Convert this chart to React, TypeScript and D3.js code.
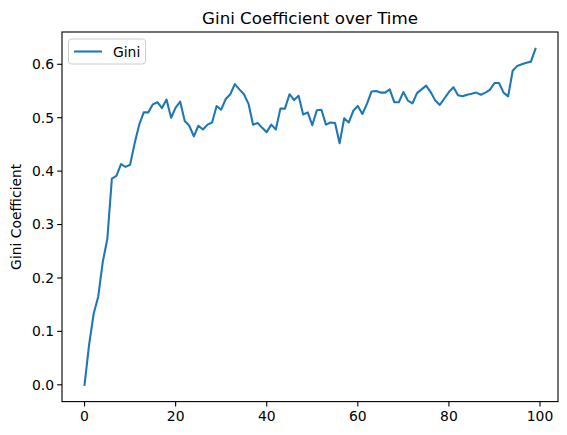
import React from "react";
import * as d3 from "d3";

const giniValues: number[] = [
  0.0, 0.075, 0.133, 0.165, 0.23, 0.273, 0.386, 0.391, 0.413, 0.408,
  0.412, 0.452, 0.487, 0.51, 0.51, 0.525, 0.529, 0.518, 0.534, 0.5,
  0.519, 0.53, 0.494, 0.485, 0.465, 0.485, 0.478, 0.487, 0.491, 0.522,
  0.515, 0.535, 0.544, 0.563, 0.553, 0.544, 0.526, 0.487, 0.49, 0.481,
  0.473, 0.487, 0.478, 0.517, 0.517, 0.544, 0.533, 0.541, 0.506, 0.51,
  0.486, 0.514, 0.515, 0.487, 0.491, 0.49, 0.452, 0.499, 0.491, 0.513,
  0.522, 0.507, 0.526, 0.549, 0.55, 0.547, 0.547, 0.553, 0.529, 0.529,
  0.548, 0.532, 0.527, 0.546, 0.553, 0.56, 0.548, 0.532, 0.524, 0.536,
  0.548, 0.557, 0.542, 0.54, 0.543, 0.545, 0.547, 0.543, 0.547, 0.552,
  0.565, 0.565, 0.547, 0.54, 0.588, 0.597, 0.6, 0.603, 0.605, 0.629,
];
const xTicks: number[] = [0, 20, 40, 60, 80, 100];
const yTicks: number[] = [0.0, 0.1, 0.2, 0.3, 0.4, 0.5, 0.6];
const title = "Gini Coefficient over Time";
const yLabel = "Gini Coefficient";
const seriesName = "Gini";

const W = 567, H = 435;
const L = 62, R = 558, T = 32, B = 401.6;
const FONT = "DejaVu Sans, sans-serif";

export default function App() {
  const n = giniValues.length;
  const xPad = (n - 1) * 0.05;
  const x = d3.scaleLinear().domain([-xPad, n - 1 + xPad]).range([L, R]);
  const yMin = d3.min(giniValues)!, yMax = d3.max(giniValues)!;
  const yPad = (yMax - yMin) * 0.05;
  const y = d3.scaleLinear().domain([yMin - yPad, yMax + yPad]).range([B, T]);
  const line = d3.line<number>().x((_, i) => x(i)).y((d) => y(d));

  return (
    <svg width={W} height={H} style={{ position: "absolute", left: 0, top: 0, background: "#fff" }} fontFamily={FONT}>
      <rect x={0} y={0} width={W} height={H} fill="#fff" />
      <path d={line(giniValues)!} fill="none" stroke="#1f77b4" strokeWidth={2.08} strokeLinejoin="round" strokeLinecap="square" />
      <rect x={L} y={T} width={R - L} height={B - T} fill="none" stroke="#000" strokeWidth={1.1} />
      {xTicks.map((t) => (
        <g key={"x" + t} transform={`translate(${x(t)},${B})`}>
          <line y1={0} y2={4.86} stroke="#000" strokeWidth={1.1} />
          <text y={19} textAnchor="middle" fontSize={13.9} fill="#000">{t}</text>
        </g>
      ))}
      {yTicks.map((t) => (
        <g key={"y" + t} transform={`translate(${L},${y(t)})`}>
          <line x1={0} x2={-4.86} stroke="#000" strokeWidth={1.1} />
          <text x={-8} dy="0.35em" textAnchor="end" fontSize={13.9} fill="#000">{t.toFixed(1)}</text>
        </g>
      ))}
      <text x={(L + R) / 2} y={T - 8} textAnchor="middle" fontSize={16.67} fill="#000">{title}</text>
      <text transform={`translate(${21},${(T + B) / 2}) rotate(-90)`} textAnchor="middle" fontSize={13.9} fill="#000">{yLabel}</text>
      <g>
        <rect x={68.5} y={39} width={77} height={25} rx={3} fill="#fff" fillOpacity={0.8} stroke="#ccc" strokeWidth={1} />
        <line x1={74} x2={102} y1={51.5} y2={51.5} stroke="#1f77b4" strokeWidth={2.08} />
        <text x={113} y={56.5} fontSize={13.9} fill="#000">{seriesName}</text>
      </g>
    </svg>
  );
}
